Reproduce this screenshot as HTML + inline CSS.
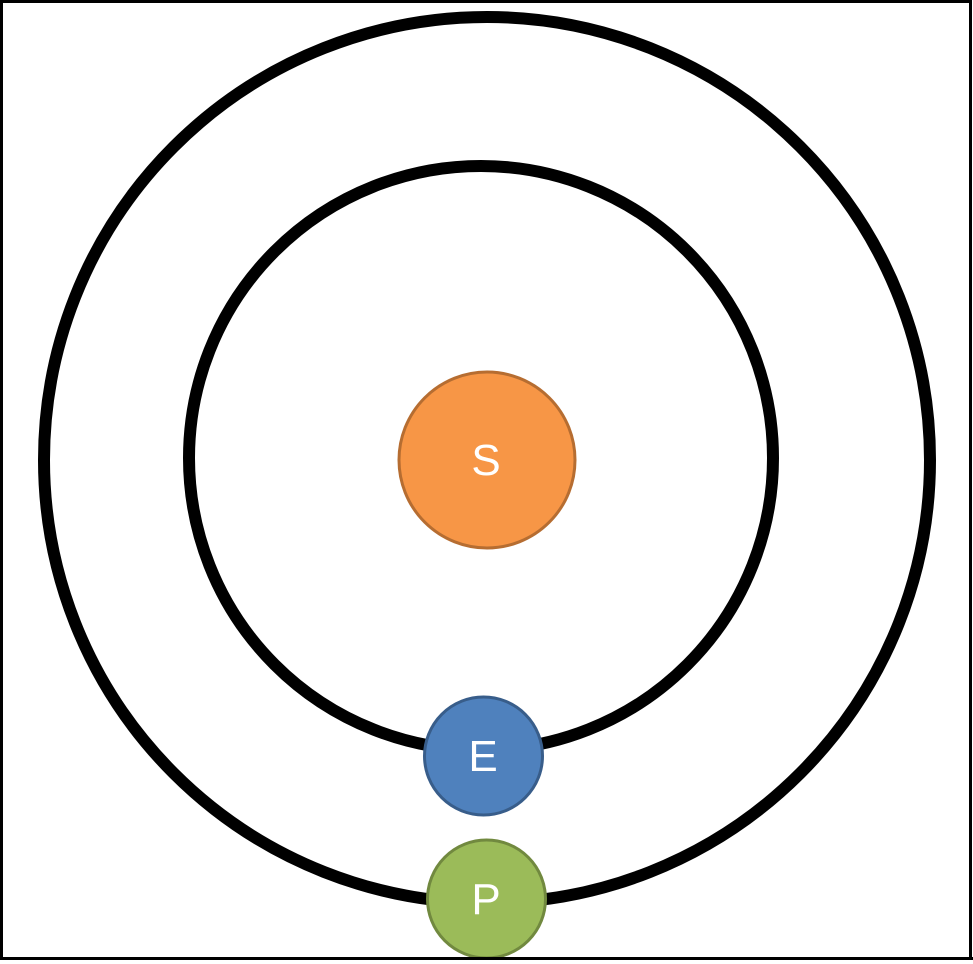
<!DOCTYPE html>
<html><head><style>html,body{margin:0;padding:0;background:#fff;}svg{display:block;}</style></head>
<body>
<svg width="973" height="964" viewBox="0 0 973 964" xmlns="http://www.w3.org/2000/svg">
<rect x="1.5" y="1.5" width="969" height="957" fill="#fff" stroke="#000" stroke-width="3"/>
<circle cx="487" cy="460" r="443" fill="none" stroke="#000" stroke-width="12"/>
<circle cx="481" cy="458" r="292" fill="none" stroke="#000" stroke-width="12"/>
<circle cx="487" cy="460" r="88" fill="#F79646" stroke="#B66D31" stroke-width="3"/>
<circle cx="483.5" cy="756" r="59" fill="#4F81BD" stroke="#385D8A" stroke-width="3"/>
<circle cx="486.5" cy="899" r="59" fill="#9BBB59" stroke="#71893F" stroke-width="3"/>
<rect x="0" y="958" width="973" height="6" fill="#fff"/>
<line x1="0" y1="958.5" x2="973" y2="958.5" stroke="#000" stroke-width="3"/>
<g font-family="Liberation Sans, sans-serif" font-size="44" fill="#fff" text-anchor="middle">
<text x="486" y="475">S</text>
<text x="483" y="771">E</text>
<text x="486" y="914">P</text>
</g>
</svg>
</body></html>
